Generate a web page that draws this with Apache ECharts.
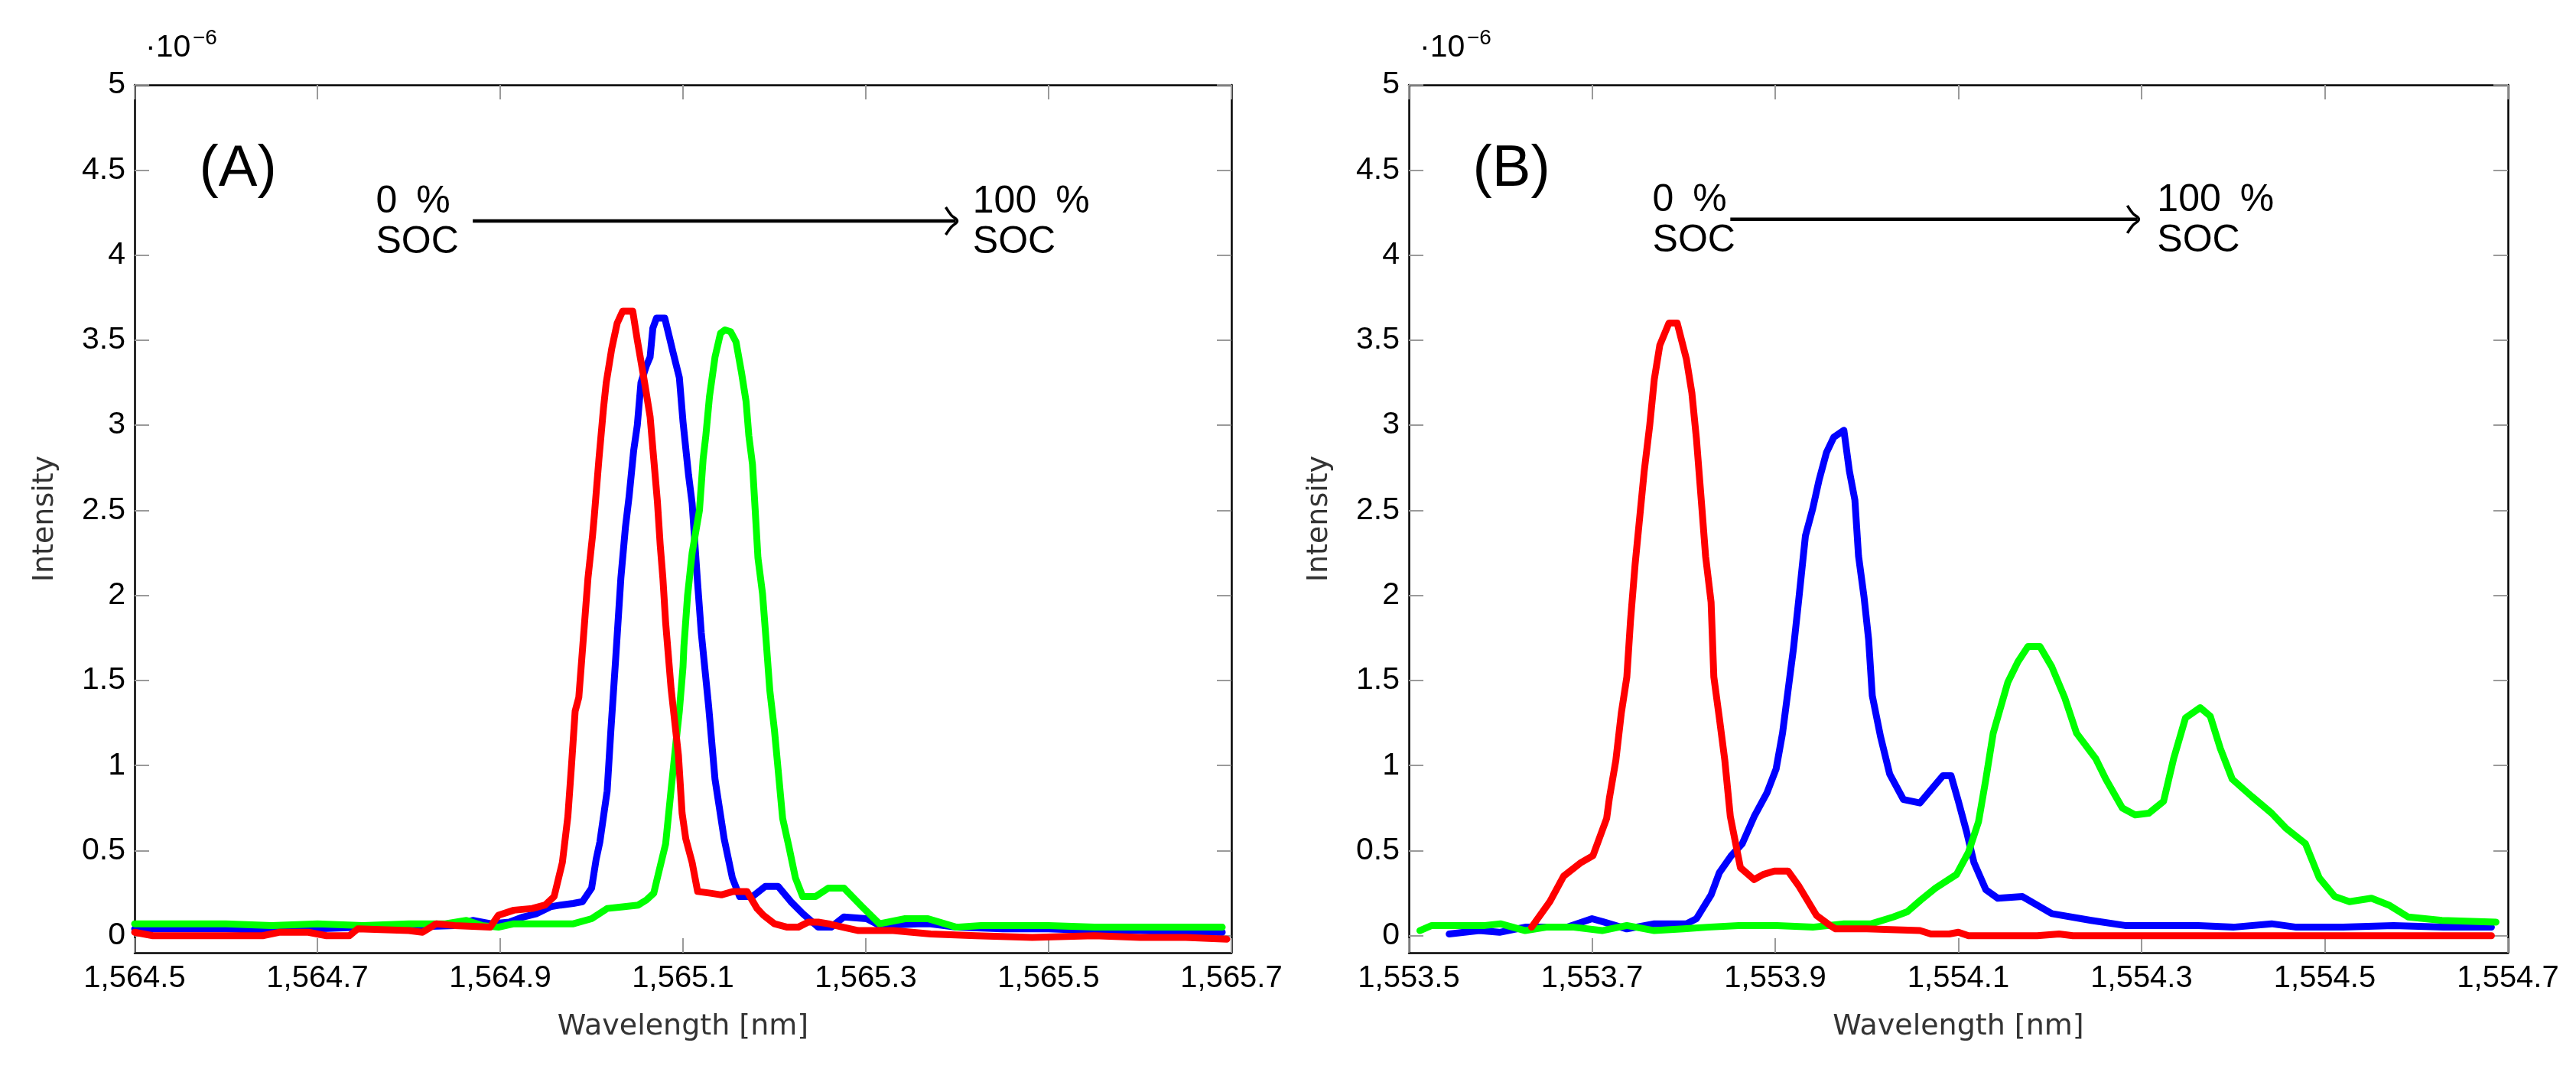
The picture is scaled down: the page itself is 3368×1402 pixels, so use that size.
<!DOCTYPE html>
<html>
<head>
<meta charset="utf-8">
<script src="https://cdn.jsdelivr.net/npm/echarts@6/dist/echarts.min.js"></script>
<style>
html,body{margin:0;padding:0;background:#fff;}
#chart{width:3368px;height:1402px;}
</style>
</head>
<body>
<div id="chart"></div>
<script>
// ---------- data ----------
const xTicksA = [1564.5, 1564.7, 1564.9, 1565.1, 1565.3, 1565.5, 1565.7];
const xTicksB = [1553.5, 1553.7, 1553.9, 1554.1, 1554.3, 1554.5, 1554.7];
const yTicks = [0, 0.5, 1, 1.5, 2, 2.5, 3, 3.5, 4, 4.5, 5];

// Panel A (wavelength nm, intensity x1e-6)
const blueA = [[1564.50,0.04],[1564.55,0.04],[1564.60,0.04],[1564.65,0.03],[1564.70,0.04],[1564.75,0.05],[1564.80,0.05],[1564.85,0.06],[1564.87,0.09],[1564.89,0.07],[1564.91,0.08],[1564.925,0.11],[1564.94,0.13],[1564.955,0.17],[1564.966,0.18],[1564.98,0.19],[1564.99,0.20],[1565.0,0.28],[1565.005,0.45],[1565.009,0.55],[1565.013,0.70],[1565.017,0.85],[1565.021,1.2],[1565.026,1.6],[1565.032,2.1],[1565.037,2.4],[1565.041,2.58],[1565.046,2.85],[1565.050,3.0],[1565.054,3.25],[1565.060,3.35],[1565.064,3.40],[1565.067,3.57],[1565.071,3.63],[1565.080,3.63],[1565.085,3.52],[1565.089,3.43],[1565.096,3.28],[1565.100,3.02],[1565.106,2.71],[1565.110,2.54],[1565.116,2.07],[1565.120,1.78],[1565.128,1.35],[1565.135,0.92],[1565.145,0.57],[1565.154,0.34],[1565.162,0.23],[1565.176,0.23],[1565.190,0.29],[1565.204,0.29],[1565.218,0.20],[1565.231,0.13],[1565.248,0.05],[1565.262,0.05],[1565.276,0.11],[1565.301,0.10],[1565.315,0.06],[1565.357,0.07],[1565.371,0.07],[1565.399,0.05],[1565.45,0.04],[1565.50,0.04],[1565.55,0.03],[1565.60,0.03],[1565.65,0.02],[1565.69,0.02]];
const greenA = [[1564.50,0.07],[1564.55,0.07],[1564.60,0.07],[1564.65,0.06],[1564.70,0.07],[1564.75,0.06],[1564.80,0.07],[1564.84,0.07],[1564.863,0.09],[1564.88,0.06],[1564.898,0.05],[1564.915,0.07],[1564.95,0.07],[1564.98,0.07],[1565.0,0.10],[1565.017,0.16],[1565.034,0.17],[1565.051,0.18],[1565.060,0.21],[1565.068,0.25],[1565.072,0.34],[1565.081,0.54],[1565.087,0.86],[1565.092,1.12],[1565.096,1.32],[1565.100,1.58],[1565.101,1.70],[1565.105,2.0],[1565.110,2.25],[1565.118,2.50],[1565.122,2.80],[1565.125,2.94],[1565.129,3.17],[1565.135,3.40],[1565.141,3.54],[1565.146,3.56],[1565.152,3.55],[1565.158,3.49],[1565.164,3.31],[1565.169,3.14],[1565.172,2.94],[1565.176,2.77],[1565.179,2.50],[1565.182,2.22],[1565.187,2.01],[1565.191,1.73],[1565.195,1.44],[1565.200,1.21],[1565.204,0.98],[1565.209,0.69],[1565.216,0.52],[1565.223,0.34],[1565.231,0.23],[1565.245,0.23],[1565.259,0.28],[1565.276,0.28],[1565.296,0.17],[1565.315,0.07],[1565.343,0.10],[1565.368,0.10],[1565.399,0.05],[1565.426,0.06],[1565.47,0.06],[1565.50,0.06],[1565.55,0.05],[1565.60,0.05],[1565.65,0.05],[1565.69,0.05]];
const redA = [[1564.50,0.02],[1564.52,0.0],[1564.55,0.0],[1564.60,0.0],[1564.64,0.0],[1564.658,0.02],[1564.69,0.02],[1564.71,0.0],[1564.735,0.0],[1564.744,0.04],[1564.80,0.03],[1564.815,0.02],[1564.83,0.07],[1564.85,0.06],[1564.889,0.05],[1564.898,0.12],[1564.915,0.15],[1564.935,0.16],[1564.949,0.18],[1564.959,0.23],[1564.968,0.43],[1564.974,0.70],[1564.978,1.0],[1564.982,1.32],[1564.986,1.40],[1564.991,1.75],[1564.996,2.10],[1565.001,2.35],[1565.003,2.47],[1565.008,2.80],[1565.013,3.10],[1565.016,3.25],[1565.022,3.45],[1565.028,3.60],[1565.034,3.67],[1565.045,3.67],[1565.050,3.50],[1565.058,3.25],[1565.064,3.05],[1565.068,2.80],[1565.072,2.55],[1565.075,2.30],[1565.078,2.10],[1565.081,1.84],[1565.087,1.45],[1565.095,1.06],[1565.099,0.72],[1565.103,0.57],[1565.110,0.43],[1565.116,0.26],[1565.130,0.25],[1565.142,0.24],[1565.155,0.26],[1565.170,0.26],[1565.181,0.16],[1565.188,0.12],[1565.200,0.07],[1565.214,0.05],[1565.226,0.05],[1565.237,0.08],[1565.248,0.08],[1565.259,0.07],[1565.275,0.05],[1565.292,0.03],[1565.33,0.03],[1565.371,0.01],[1565.42,0.0],[1565.482,-0.01],[1565.55,0.0],[1565.60,-0.01],[1565.65,-0.01],[1565.695,-0.02]];

// Panel B
const blueB = [[1553.544,0.01],[1553.577,0.03],[1553.599,0.02],[1553.627,0.05],[1553.673,0.05],[1553.700,0.10],[1553.713,0.08],[1553.738,0.04],[1553.768,0.07],[1553.803,0.07],[1553.814,0.10],[1553.830,0.24],[1553.839,0.37],[1553.852,0.47],[1553.864,0.54],[1553.877,0.70],[1553.891,0.84],[1553.901,0.98],[1553.908,1.19],[1553.914,1.44],[1553.920,1.69],[1553.926,1.99],[1553.933,2.35],[1553.941,2.51],[1553.948,2.68],[1553.956,2.84],[1553.964,2.93],[1553.975,2.97],[1553.981,2.73],[1553.987,2.56],[1553.991,2.23],[1553.997,1.99],[1554.002,1.74],[1554.006,1.41],[1554.015,1.17],[1554.025,0.95],[1554.040,0.80],[1554.058,0.78],[1554.083,0.94],[1554.092,0.94],[1554.100,0.79],[1554.109,0.61],[1554.117,0.43],[1554.130,0.27],[1554.143,0.22],[1554.170,0.23],[1554.202,0.13],[1554.245,0.09],[1554.282,0.06],[1554.32,0.06],[1554.362,0.06],[1554.40,0.05],[1554.442,0.07],[1554.469,0.05],[1554.52,0.05],[1554.575,0.06],[1554.63,0.05],[1554.682,0.05]];
const greenB = [[1553.512,0.03],[1553.525,0.06],[1553.583,0.06],[1553.60,0.07],[1553.627,0.03],[1553.65,0.05],[1553.68,0.05],[1553.711,0.03],[1553.738,0.06],[1553.768,0.03],[1553.80,0.04],[1553.826,0.05],[1553.86,0.06],[1553.902,0.06],[1553.941,0.05],[1553.975,0.07],[1554.005,0.07],[1554.029,0.11],[1554.044,0.14],[1554.059,0.21],[1554.075,0.28],[1554.098,0.36],[1554.111,0.49],[1554.122,0.67],[1554.130,0.92],[1554.138,1.19],[1554.146,1.34],[1554.154,1.49],[1554.165,1.61],[1554.176,1.70],[1554.189,1.70],[1554.202,1.58],[1554.216,1.40],[1554.229,1.19],[1554.250,1.04],[1554.261,0.92],[1554.279,0.75],[1554.293,0.71],[1554.308,0.72],[1554.324,0.79],[1554.335,1.04],[1554.348,1.28],[1554.364,1.34],[1554.375,1.29],[1554.386,1.10],[1554.399,0.92],[1554.420,0.82],[1554.442,0.72],[1554.458,0.63],[1554.479,0.54],[1554.494,0.34],[1554.511,0.23],[1554.527,0.20],[1554.551,0.22],[1554.570,0.18],[1554.591,0.11],[1554.628,0.09],[1554.687,0.08]];
const redB = [[1553.634,0.05],[1553.654,0.20],[1553.669,0.35],[1553.688,0.43],[1553.701,0.47],[1553.716,0.69],[1553.719,0.81],[1553.726,1.03],[1553.732,1.31],[1553.738,1.52],[1553.742,1.85],[1553.747,2.18],[1553.753,2.51],[1553.757,2.73],[1553.763,3.00],[1553.768,3.27],[1553.774,3.47],[1553.784,3.60],[1553.793,3.60],[1553.803,3.39],[1553.809,3.19],[1553.814,2.92],[1553.820,2.51],[1553.824,2.23],[1553.830,1.96],[1553.833,1.52],[1553.839,1.28],[1553.845,1.03],[1553.851,0.70],[1553.862,0.40],[1553.877,0.33],[1553.887,0.36],[1553.899,0.38],[1553.914,0.38],[1553.926,0.29],[1553.945,0.12],[1553.960,0.06],[1553.966,0.04],[1554.00,0.04],[1554.058,0.03],[1554.07,0.01],[1554.09,0.01],[1554.10,0.02],[1554.111,0.0],[1554.15,0.0],[1554.186,0.0],[1554.210,0.01],[1554.225,0.0],[1554.3,0.0],[1554.4,0.0],[1554.5,0.0],[1554.6,0.0],[1554.682,0.0]];

// annotation anchors (data coordinates)
const annA = {label: '(A)', labelAt: [1564.613, 4.5], from: [1564.870, 4.2], to: [1565.400, 4.2], startText: [1564.764, 4.2], endText: [1565.417, 4.2]};
const annB = {label: '(B)', labelAt: [1553.612, 4.5], from: [1553.851, 4.21], to: [1554.297, 4.21], startText: [1553.766, 4.21], endText: [1554.317, 4.21]};

// ---------- chart ----------
const chart = echarts.init(document.getElementById('chart'), null, {renderer: 'canvas'});
const tickFont = 'Liberation Sans, Arial, sans-serif';
const nameFont = 'DejaVu Sans, sans-serif';

function fmtX(v) {
  const s = Number(v).toFixed(1);
  const parts = s.split('.');
  return parts[0].replace(/\B(?=(\d{3})+(?!\d))/g, ',') + '.' + parts[1];
}
function fmtY(v) { return String(+Number(v).toFixed(1)); }

const grids = [
  {left: 176, top: 111, width: 1434, height: 1135},
  {left: 1842, top: 111, width: 1437, height: 1135}
];
const xRanges = [[1564.5, 1565.7, xTicksA], [1553.5, 1554.7, xTicksB]];

const frameLine = {show: true, onZero: false, lineStyle: {color: '#000', width: 2.5}};
const tickStyle = {color: '#9a9a9a', width: 2};

const xAxes = [], yAxes = [];
xRanges.forEach((r, g) => {
  xAxes.push({
    type: 'value', gridIndex: g, min: r[0], max: r[1], position: 'bottom',
    axisLine: frameLine,
    axisTick: {show: true, inside: true, length: 19, lineStyle: tickStyle, customValues: r[2]},
    axisLabel: {show: true, customValues: r[2], formatter: fmtX, fontSize: 40, fontFamily: tickFont, color: '#000', margin: 14},
    splitLine: {show: false},
    name: 'Wavelength [nm]', nameLocation: 'middle', nameGap: 78,
    nameTextStyle: {fontSize: 38, fontFamily: nameFont, color: '#333'}
  });
  xAxes.push({
    type: 'value', gridIndex: g, min: r[0], max: r[1], position: 'top',
    axisLine: frameLine,
    axisTick: {show: true, inside: true, length: 19, lineStyle: tickStyle, customValues: r[2]},
    axisLabel: {show: false}, splitLine: {show: false}
  });
  yAxes.push({
    type: 'value', gridIndex: g, min: -0.1, max: 5, position: 'left',
    axisLine: frameLine,
    axisTick: {show: true, inside: true, length: 19, lineStyle: tickStyle, customValues: yTicks},
    axisLabel: {show: true, customValues: yTicks, formatter: fmtY, fontSize: 41, fontFamily: tickFont, color: '#000', margin: 12},
    splitLine: {show: false},
    name: 'Intensity', nameLocation: 'middle', nameGap: 98, nameRotate: 90,
    nameTextStyle: {fontSize: 38, fontFamily: nameFont, color: '#333'}
  });
  yAxes.push({
    type: 'value', gridIndex: g, min: -0.1, max: 5, position: 'right',
    axisLine: frameLine,
    axisTick: {show: true, inside: true, length: 19, lineStyle: tickStyle, customValues: yTicks},
    axisLabel: {show: false}, splitLine: {show: false}
  });
});

function lineSeries(data, color, g) {
  return {
    type: 'line', data: data, xAxisIndex: g * 2, yAxisIndex: g * 2,
    showSymbol: false, symbol: 'none', smooth: false,
    lineStyle: {color: color, width: 9, join: 'round', cap: 'round'},
    itemStyle: {color: color}, z: 3
  };
}

chart.setOption({
  animation: false,
  backgroundColor: '#fff',
  grid: grids,
  xAxis: xAxes,
  yAxis: yAxes,
  series: [
    lineSeries(blueA, '#0000ff', 0), lineSeries(greenA, '#00ff00', 0), lineSeries(redA, '#ff0000', 0),
    lineSeries(blueB, '#0000ff', 1), lineSeries(greenB, '#00ff00', 1), lineSeries(redB, '#ff0000', 1)
  ]
});

// ---------- annotations ----------
const annFont = 'Liberation Sans, Arial, sans-serif';
function txt(text, x, y, size, align, vAlign, family, color) {
  return {type: 'text', z: 10, style: {text: text, x: x, y: y, fontSize: size, fontFamily: family || annFont,
    fill: color || '#000', textAlign: align, textVerticalAlign: vAlign, align: align, verticalAlign: vAlign}};
}
const elements = [];
[annA, annB].forEach((a, g) => {
  const conv = p => chart.convertToPixel({xAxisIndex: g * 2, yAxisIndex: g * 2}, p);
  const lab = conv(a.labelAt);
  elements.push(txt(a.label, lab[0], lab[1], 76, 'center', 'middle'));
  const f = conv(a.from), t = conv(a.to);
  elements.push({type: 'line', z: 10, shape: {x1: f[0], y1: f[1], x2: t[0] - 2, y2: t[1]}, style: {stroke: '#000', lineWidth: 4.5}});
  elements.push({type: 'polyline', z: 10, shape: {points: [[t[0] - 15, t[1] - 18], [t[0] - 8, t[1] - 8], [t[0], t[1]], [t[0] - 8, t[1] + 8], [t[0] - 15, t[1] + 18]], smooth: 0.4},
    style: {stroke: '#000', lineWidth: 3.5, fill: null}});
  const s = conv(a.startText), e = conv(a.endText);
  elements.push(txt('0\u2002%', s[0], s[1] - 25, 50, 'left', 'middle'));
  elements.push(txt('SOC', s[0], s[1] + 28, 50, 'left', 'middle'));
  elements.push(txt('100\u2002%', e[0], e[1] - 25, 50, 'left', 'middle'));
  elements.push(txt('SOC', e[0], e[1] + 28, 50, 'left', 'middle'));
  // exponent marker
  const gl = grids[g].left;
  elements.push(txt('\u00b710', gl + 14, 63, 41, 'left', 'middle'));
  elements.push(txt('\u22126', gl + 76, 50, 28, 'left', 'middle'));
});
chart.setOption({graphic: {elements: elements}});
</script>
</body>
</html>
